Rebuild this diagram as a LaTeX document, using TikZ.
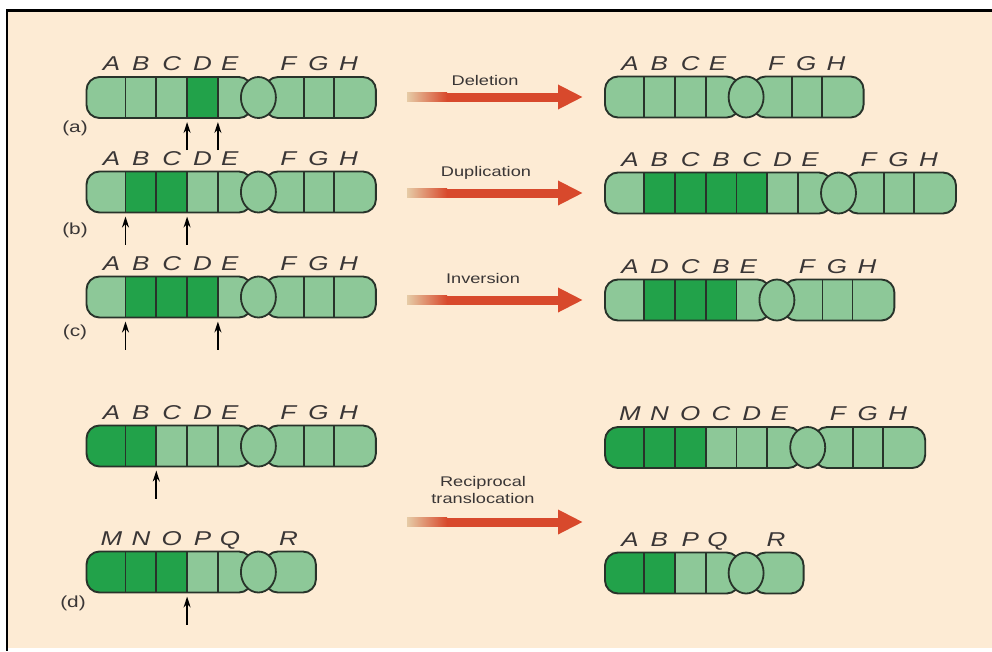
\documentclass[tikz,border=0pt]{standalone}
\usepackage{fontspec}
\setmainfont{Liberation Sans}
\newfontfamily\geneFont[FakeStretch=1.3]{Liberation Sans}
\usetikzlibrary{arrows.meta,calc}

\definecolor{paper}{HTML}{FDEBD4}
\definecolor{bandL}{HTML}{8DC898}
\definecolor{bandD}{HTML}{22A24A}
\definecolor{bandLine}{HTML}{28332A}
\definecolor{arrowRed}{HTML}{D8492C}
\definecolor{arrowFade}{HTML}{E6CBA6}
\definecolor{inkGrey}{HTML}{3A3636}
\newcommand\cellw{30.8}

% #1 name, #2 left end, #3 centre line, #4 bands left of the centromere (colour/letter), #5 letters right of it
\newcommand\chromosome[5]{%
	\foreach \col/\lbl [count=\idx] in {#4}{\xdef\nLeft{\idx}}
	\foreach \lbl [count=\idx] in {#5}{\xdef\nRight{\idx}}
	\pgfmathsetmacro\xEnd{#2+39+(\nLeft-2)*\cellw+25}
	\pgfmathsetmacro\xMid{\xEnd+31}
	\pgfmathsetmacro\xRight{\xMid+(\nRight-1)*30+42}
	\begin{scope}
		\clip[rounded corners=13] (#2,#3-20.5) rectangle (\xEnd+9,#3+20.5);
		\foreach \col/\lbl [count=\idx] in {#4}{
			\pgfmathsetmacro\xa{\idx==1 ? #2 : #2+39+(\idx-2)*\cellw}
			\fill[fill=band\col] (\xa,#3-21) rectangle (\xEnd+12,#3+21);
		}
	\end{scope}
	\draw[band] (#2,#3-20.5) rectangle (\xEnd+9,#3+20.5);
	\foreach \col/\lbl [count=\idx] in {#4}{
		\pgfmathsetmacro\xa{\idx==1 ? #2 : #2+39+(\idx-2)*\cellw}
		\pgfmathsetmacro\xl{\idx==1 ? #2+25 : (\idx==\nLeft ? \xa+12 : \xa+\cellw/2)}
		\ifnum\idx>1 \draw[bandsep] (\xa,#3-20.5) -- (\xa,#3+20.5); \fi
		\coordinate (#1-cut\idx) at (\xa,#3+20.5);
		\node[gene] (#1-l\idx) at (\xl,#3-27) {\lbl};
	}
	\filldraw[band, fill=bandL] (\xMid-9,#3-20.5) rectangle (\xRight,#3+20.5);
	\foreach \lbl [count=\idx] in {#5}{
		\pgfmathsetmacro\xa{\xMid+(\idx-1)*30}
		\ifnum\idx>1 \draw[bandsep] (\xa,#3-20.5) -- (\xa,#3+20.5); \fi
		\node[gene] (#1-r\idx) at (\xa+14.5,#3-27) {\lbl};
	}
	\filldraw[bandsep, fill=bandL] (\xEnd+15.5,#3) ellipse [x radius=17.5, y radius=20.5];
}

\begin{document}
\begin{tikzpicture}[x=1pt,y=-1pt,
	band/.style={draw=bandLine, line width=1.9pt, rounded corners=13},
	bandsep/.style={draw=bandLine, line width=1.8pt},
	gene/.style={font=\geneFont\itshape\fontsize{20}{22}\selectfont, text=inkGrey, inner sep=0pt, anchor=base},
	tag/.style={font=\geneFont\fontsize{16}{18}\selectfont, text=inkGrey, inner sep=0pt},
	process/.style={font=\geneFont\fontsize{14}{17}\selectfont, text=inkGrey, inner sep=0pt, align=center},
	bigarrow/.style={draw=arrowRed, line width=9pt, -{Triangle[length=25pt,width=23pt]}},
	cutarrow/.style={draw=black, line width=1.8pt, -{Stealth[length=11pt,width=7pt]}}]

	\useasboundingbox (0,0) rectangle (992,651);
	\fill[white] (0,0) rectangle (992,651);
	\fill[paper] (8,12) rectangle (992,648);
	\draw[black, line width=3pt] (6,10) -- (992,10);
	\draw[black, line width=2.5pt] (7,10) -- (7,651);

	\chromosome{a}{86.5}{97.5}{L/A,L/B,L/C,D/D,L/E}{F,G,H}
	\chromosome{del}{605}{97}{L/A,L/B,L/C,L/E}{F,G,H}
	\chromosome{b}{86.5}{192}{L/A,D/B,D/C,L/D,L/E}{F,G,H}
	\chromosome{dup}{605}{193}{L/A,D/B,D/C,D/B,D/C,L/D,L/E}{F,G,H}
	\chromosome{c}{86.5}{297}{L/A,D/B,D/C,D/D,L/E}{F,G,H}
	\chromosome{inv}{605}{300}{L/A,D/D,D/C,D/B,L/E}{F,G,H}
	\chromosome{d1}{86.5}{446}{D/A,D/B,L/C,L/D,L/E}{F,G,H}
	\chromosome{d2}{86.5}{572}{D/M,D/N,D/O,L/P,L/Q}{R}
	\chromosome{tr1}{605}{447.5}{D/M,D/N,D/O,L/C,L/D,L/E}{F,G,H}
	\chromosome{tr2}{605}{573}{D/A,D/B,L/P,L/Q}{R}

	\foreach \cut in {a-cut4,a-cut5,b-cut2,b-cut4,c-cut2,c-cut5,d1-cut3,d2-cut4}{
		\draw[cutarrow] ($(\cut)+(0,32)$) -- ($(\cut)+(0,4)$);
	}

	\node[tag] (tag-a) at (75,128) {(a)};
	\node[tag] (tag-b) at (75,230) {(b)};
	\node[tag] (tag-c) at (75,332) {(c)};
	\node[tag] (tag-d) at (73,603) {(d)};

	\coordinate (del-from) at (407,97);   \coordinate (del-to) at (583,97);
	\coordinate (dup-from) at (407,193);  \coordinate (dup-to) at (583,193);
	\coordinate (inv-from) at (407,300);  \coordinate (inv-to) at (583,300);
	\coordinate (tr-from) at (407,522);   \coordinate (tr-to) at (583,522);
	\foreach \step in {del,dup,inv,tr}{
		\draw[bigarrow] (\step-from) -- (\step-to);
		\shade[left color=arrowFade, right color=arrowRed] (\step-from) ++(0,-4.5) rectangle ++(40,9);
	}

	\node[process] (del-text) at (485,80) {Deletion};
	\node[process] (dup-text) at (486,173) {Duplication};
	\node[process] (inv-text) at (483,278) {Inversion};
	\node[process] (tr-text) at (483,490) {Reciprocal\\translocation};
\end{tikzpicture}
\end{document}
